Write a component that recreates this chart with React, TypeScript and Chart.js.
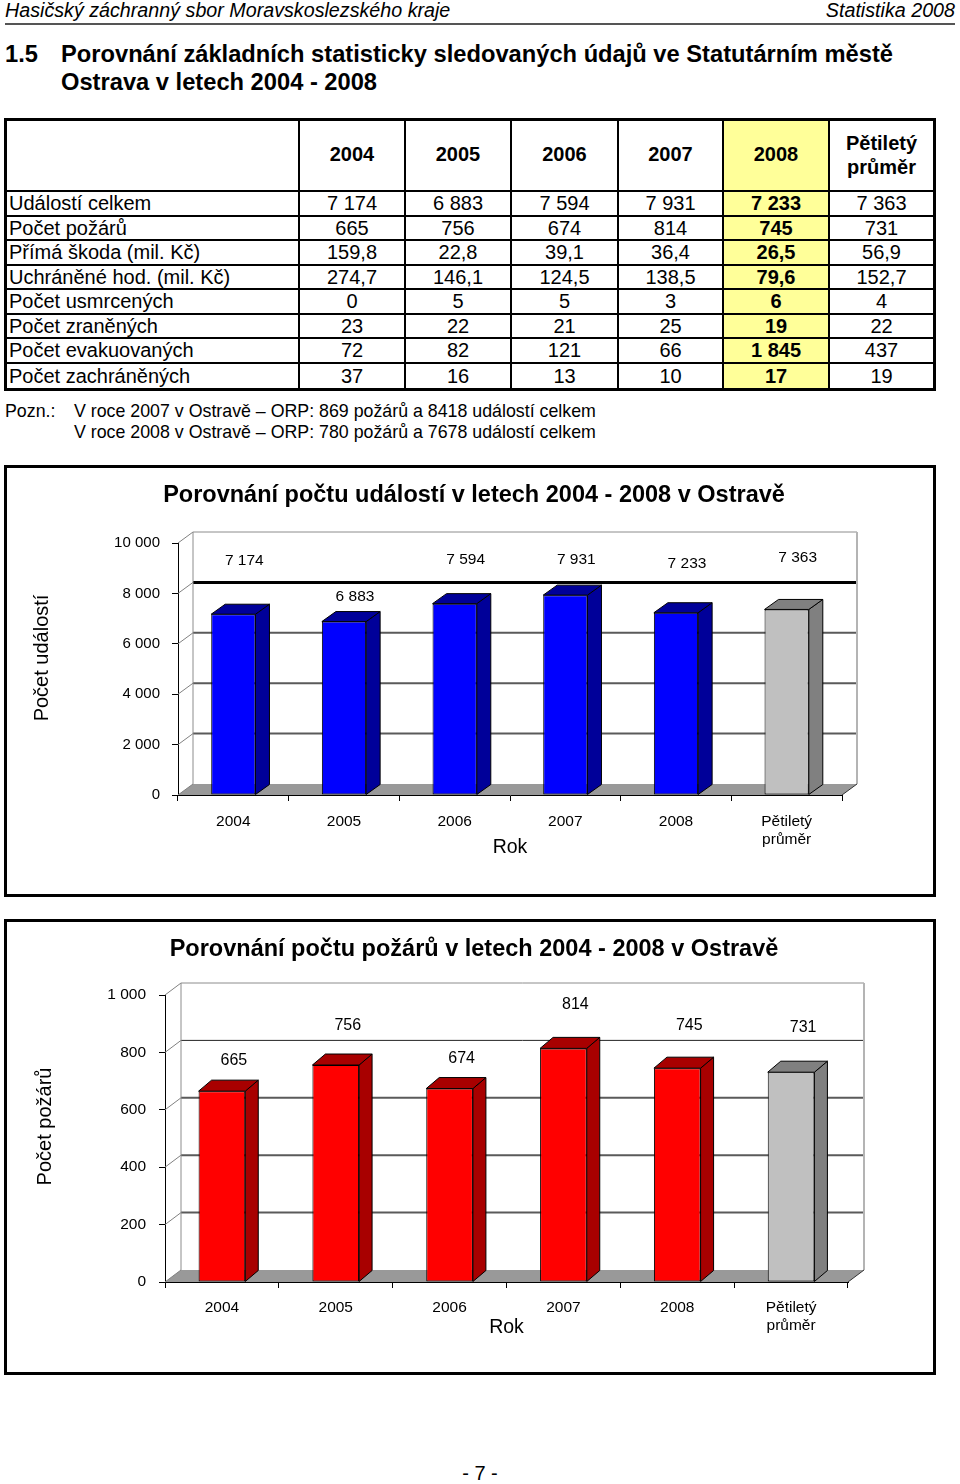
import React, { useEffect, useRef } from 'react';
import { Chart, registerables } from 'chart.js';

Chart.register(...registerables);

const FONT = '"Liberation Sans", Arial, Helvetica, sans-serif';
Chart.defaults.font.family = FONT;

// ---------- page texts ----------
const headerLeft = 'Hasičský záchranný sbor Moravskoslezského kraje';
const headerRight = 'Statistika 2008';
const sectionNumber = '1.5';
const sectionTitleLines = [
  'Porovnání základních statisticky sledovaných údajů ve Statutárním městě',
  'Ostrava v letech 2004 - 2008',
];

// ---------- table data ----------
const tableYears = ['2004', '2005', '2006', '2007', '2008'];
const tableAvgHeader = ['Pětiletý', 'průměr'];
const rowLabels = [
  'Událostí celkem',
  'Počet požárů',
  'Přímá škoda (mil. Kč)',
  'Uchráněné hod. (mil. Kč)',
  'Počet usmrcených',
  'Počet zraněných',
  'Počet evakuovaných',
  'Počet zachráněných',
];
const rowEvents = ['7 174', '6 883', '7 594', '7 931', '7 233', '7 363'];
const rowFires = ['665', '756', '674', '814', '745', '731'];
const rowDamage = ['159,8', '22,8', '39,1', '36,4', '26,5', '56,9'];
const rowSaved = ['274,7', '146,1', '124,5', '138,5', '79,6', '152,7'];
const rowDead = ['0', '5', '5', '3', '6', '4'];
const rowInjured = ['23', '22', '21', '25', '19', '22'];
const rowEvacuated = ['72', '82', '121', '66', '1 845', '437'];
const rowRescued = ['37', '16', '13', '10', '17', '19'];
const tableRows = [rowEvents, rowFires, rowDamage, rowSaved, rowDead, rowInjured, rowEvacuated, rowRescued];

const noteLabel = 'Pozn.:';
const noteLines = [
  'V roce 2007 v Ostravě – ORP: 869 požárů a 8418 událostí celkem',
  'V roce 2008 v Ostravě – ORP: 780 požárů a 7678 událostí celkem',
];

// ---------- chart data ----------
const chartCategories: (string | string[])[] = ['2004', '2005', '2006', '2007', '2008', ['Pětiletý', 'průměr']];
const eventsTitle = 'Porovnání počtu událostí v letech 2004 - 2008 v Ostravě';
const eventValues = [7174, 6883, 7594, 7931, 7233, 7363];
const eventLabelLevels = [9290, 7860, 9330, 9330, 9170, 9400];
const eventAxisMax = 10000;
const eventAxisStep = 2000;

const firesTitle = 'Porovnání počtu požárů v letech 2004 - 2008 v Ostravě';
const fireValues = [665, 756, 674, 814, 745, 731];
const fireLabelLevels = [773, 892, 780, 965, 895, 885];
const fireAxisMax = 1000;
const fireAxisStep = 200;

const pageNumber = '- 7 -';

const fmt = (v: number) => String(v).replace(/\B(?=(\d{3})+(?!\d))/g, ' ');

type Cfg = {
  values: number[];
  labelLevels: number[];
  frontColors: string[];
  sideColors: string[];
  yMax: number;
  yStep: number;
  yTitle: string;
  yTitleX: number;
  width: number;
  height: number;
  padTop: number;
  padRight: number;
  yAxisWidth: number;
  xAxisHeight: number;
  yTickPad: number;
  xTickPad: number;
  xTitlePad: number;
  barPct: number;
  wallDx: number;
  wallDy: number;
  barDx: number;
  barDy: number;
  gridStyle: (v: number) => { color: string; width: number };
  labelFont: number;
  labelDx: number;
  yTickFont: number;
  xTickFont: number;
};

function seg(ctx: CanvasRenderingContext2D, x1: number, y1: number, x2: number, y2: number) {
  ctx.beginPath();
  ctx.moveTo(x1, y1);
  ctx.lineTo(x2, y2);
  ctx.stroke();
}

function poly(ctx: CanvasRenderingContext2D, pts: number[][]) {
  ctx.beginPath();
  ctx.moveTo(pts[0][0], pts[0][1]);
  for (let i = 1; i < pts.length; i++) ctx.lineTo(pts[i][0], pts[i][1]);
  ctx.closePath();
  ctx.fill();
  ctx.stroke();
}

function make3D(cfg: Cfg) {
  return {
    id: 'threeD',
    beforeDatasetsDraw(chart: any) {
      const { ctx, chartArea } = chart;
      const { left, right, top, bottom } = chartArea;
      const y = chart.scales.y;
      const dx = cfg.wallDx;
      const dy = cfg.wallDy;
      ctx.save();
      ctx.fillStyle = '#999999';
      ctx.beginPath();
      ctx.moveTo(left, bottom);
      ctx.lineTo(left + dx, bottom - dy);
      ctx.lineTo(right + dx, bottom - dy);
      ctx.lineTo(right, bottom);
      ctx.closePath();
      ctx.fill();
      for (const t of y.ticks) {
        const py = y.getPixelForValue(t.value);
        ctx.strokeStyle = '#808080';
        ctx.lineWidth = 1;
        seg(ctx, left, py, left + dx, py - dy);
        if (t.value > y.min && t.value < y.max) {
          const g = cfg.gridStyle(t.value);
          ctx.strokeStyle = g.color;
          ctx.lineWidth = g.width;
          seg(ctx, left + dx, py - dy, right + dx, py - dy);
        }
      }
      ctx.strokeStyle = '#8c8c8c';
      ctx.lineWidth = 1;
      seg(ctx, left + dx, bottom - dy, left + dx, top - dy);
      seg(ctx, left + dx, top - dy, right + dx, top - dy);
      ctx.strokeStyle = '#b4b4b4';
      ctx.lineWidth = 2;
      seg(ctx, right + dx, bottom - dy, right + dx, top - dy);
      ctx.strokeStyle = '#333';
      ctx.lineWidth = 1;
      seg(ctx, right, bottom, right + dx, bottom - dy);
      ctx.restore();
    },
    afterDatasetsDraw(chart: any) {
      const { ctx } = chart;
      const meta = chart.getDatasetMeta(0);
      ctx.save();
      ctx.lineWidth = 1;
      ctx.strokeStyle = '#000';
      meta.data.forEach((el: any, i: number) => {
        const p = el.getProps(['x', 'y', 'base', 'width'], true);
        const l = p.x - p.width / 2;
        const r = p.x + p.width / 2;
        const t = p.y;
        const b = p.base;
        const dx = cfg.barDx;
        const dy = cfg.barDy;
        ctx.fillStyle = cfg.sideColors[i];
        poly(ctx, [[r, b], [r + dx, b - dy], [r + dx, t - dy], [r, t]]);
        poly(ctx, [[l, t], [l + dx, t - dy], [r + dx, t - dy], [r, t]]);
      });
      ctx.restore();
    },
    afterDraw(chart: any) {
      const { ctx, chartArea } = chart;
      const meta = chart.getDatasetMeta(0);
      const y = chart.scales.y;
      ctx.save();
      ctx.fillStyle = '#000';
      ctx.font = `${cfg.labelFont}px ${FONT}`;
      ctx.textAlign = 'center';
      ctx.textBaseline = 'middle';
      meta.data.forEach((el: any, i: number) => {
        ctx.fillText(fmt(cfg.values[i]), el.x + cfg.labelDx, y.getPixelForValue(cfg.labelLevels[i]));
      });
      // y-axis title, centred on the back wall
      const yc = (chartArea.top + chartArea.bottom) / 2 - cfg.wallDy;
      ctx.translate(cfg.yTitleX, yc);
      ctx.rotate(-Math.PI / 2);
      ctx.font = `20px ${FONT}`;
      ctx.fillText(cfg.yTitle, 0, 0);
      ctx.restore();
    },
  };
}

function Bar3D({ cfg }: { cfg: Cfg }) {
  const ref = useRef<HTMLCanvasElement | null>(null);
  useEffect(() => {
    if (!ref.current) return;
    const chart = new Chart(ref.current, {
      type: 'bar',
      data: {
        labels: chartCategories as any,
        datasets: [
          {
            data: cfg.values,
            backgroundColor: cfg.frontColors,
            borderColor: '#000',
            borderWidth: 1,
            borderSkipped: false,
            barPercentage: cfg.barPct,
            categoryPercentage: 1,
          },
        ],
      },
      options: {
        responsive: false,
        animation: false,
        events: [],
        layout: { padding: { left: 0, right: cfg.padRight, top: cfg.padTop, bottom: 0 } },
        plugins: {
          legend: { display: false },
          tooltip: { enabled: false },
          title: { display: false },
        },
        scales: {
          x: {
            grid: { offset: true, drawOnChartArea: false, drawTicks: true, tickLength: 6, color: '#000' },
            border: { display: true, color: '#000', width: 1 },
            ticks: {
              color: '#000',
              font: { size: cfg.xTickFont },
              padding: cfg.xTickPad,
              maxRotation: 0,
              minRotation: 0,
              autoSkip: false,
            },
            title: {
              display: true,
              text: 'Rok',
              color: '#000',
              font: { size: 19.5 },
              padding: { top: 0, bottom: cfg.xTitlePad },
            },
            afterFit: (s: any) => {
              s.height = cfg.xAxisHeight;
            },
          },
          y: {
            min: 0,
            max: cfg.yMax,
            grid: { drawOnChartArea: false, drawTicks: true, tickLength: 6, color: '#000' },
            border: { display: true, color: '#000', width: 1 },
            ticks: {
              stepSize: cfg.yStep,
              color: '#000',
              font: { size: cfg.yTickFont },
              padding: cfg.yTickPad,
              callback: (v: any) => fmt(Number(v)),
            },
            title: { display: false },
            afterFit: (s: any) => {
              s.width = cfg.yAxisWidth;
            },
          },
        },
      },
      plugins: [make3D(cfg)],
    } as any);
    return () => chart.destroy();
  }, [cfg]);
  return <canvas ref={ref} width={cfg.width} height={cfg.height} style={{ display: 'block', width: cfg.width, height: cfg.height }} />;
}

const blueFront = ['#0000FF', '#0000FF', '#0000FF', '#0000FF', '#0000FF', '#C0C0C0'];
const blueSide = ['#000099', '#000099', '#000099', '#000099', '#000099', '#808080'];
const redFront = ['#FF0000', '#FF0000', '#FF0000', '#FF0000', '#FF0000', '#C0C0C0'];
const redSide = ['#A80000', '#A80000', '#A80000', '#A80000', '#A80000', '#808080'];

const eventsCfg: Cfg = {
  values: eventValues,
  labelLevels: eventLabelLevels,
  frontColors: blueFront,
  sideColors: blueSide,
  yMax: eventAxisMax,
  yStep: eventAxisStep,
  yTitle: 'Počet událostí',
  yTitleX: 35,
  width: 926,
  height: 426,
  padTop: 75,
  padRight: 91,
  yAxisWidth: 171,
  xAxisHeight: 99,
  yTickPad: 12,
  xTickPad: 11,
  xTitlePad: 35,
  barPct: 0.4,
  wallDx: 15,
  wallDy: 11,
  barDx: 14,
  barDy: 10,
  gridStyle: (v: number) => (v === 8000 ? { color: '#000', width: 3 } : { color: '#5a5a5a', width: 2 }),
  labelFont: 15.5,
  labelDx: 11,
  yTickFont: 15,
  xTickFont: 15.5,
};

const firesCfg: Cfg = {
  values: fireValues,
  labelLevels: fireLabelLevels,
  frontColors: redFront,
  sideColors: redSide,
  yMax: fireAxisMax,
  yStep: fireAxisStep,
  yTitle: 'Počet požárů',
  yTitleX: 38,
  width: 926,
  height: 450,
  padTop: 73,
  padRight: 85,
  yAxisWidth: 158,
  xAxisHeight: 90,
  yTickPad: 13,
  xTickPad: 10,
  xTitlePad: 33,
  barPct: 0.41,
  wallDx: 16,
  wallDy: 12,
  barDx: 13,
  barDy: 11,
  gridStyle: (v: number) => (v === 800 ? { color: '#222', width: 1 } : { color: '#5a5a5a', width: 2 }),
  labelFont: 16,
  labelDx: 12,
  yTickFont: 15.5,
  xTickFont: 15.5,
};

const colWidths = [293, 106, 106, 107, 105, 106, 103];

function Table() {
  const cells: React.ReactNode[] = [];
  const nCols = 7;
  const nRows = 9;
  const cellStyle = (r: number, c: number): React.CSSProperties => ({
    boxSizing: 'border-box',
    borderRight: c < nCols - 1 ? '2px solid #000' : 'none',
    borderBottom: r < nRows - 1 ? '2px solid #000' : 'none',
    background: c === 5 ? '#FFFF99' : 'transparent',
    display: 'flex',
    alignItems: 'center',
    justifyContent: c === 0 ? 'flex-start' : 'center',
    paddingLeft: c === 0 ? 2 : 0,
    fontSize: 20,
    whiteSpace: 'nowrap',
    overflow: 'hidden',
  });
  cells.push(<div key="h0" style={cellStyle(0, 0)} />);
  tableYears.forEach((y, i) => {
    cells.push(
      <div key={'h' + (i + 1)} style={{ ...cellStyle(0, i + 1), fontWeight: 'bold', paddingBottom: 3 }}>
        {y}
      </div>
    );
  });
  cells.push(
    <div key="h6" style={{ ...cellStyle(0, 6), fontWeight: 'bold', flexDirection: 'column', lineHeight: '24px', textAlign: 'center', paddingBottom: 2 }}>
      <span>{tableAvgHeader[0]}</span>
      <span>{tableAvgHeader[1]}</span>
    </div>
  );
  rowLabels.forEach((lab, r) => {
    cells.push(
      <div key={'l' + r} style={cellStyle(r + 1, 0)}>
        {lab}
      </div>
    );
    tableRows[r].forEach((v, c) => {
      cells.push(
        <div key={'c' + r + '_' + c} style={{ ...cellStyle(r + 1, c + 1), fontWeight: c === 4 ? 'bold' : 'normal' }}>
          {v}
        </div>
      );
    });
  });
  return (
    <div
      style={{
        position: 'absolute',
        left: 4,
        top: 118,
        border: '3px solid #000',
        display: 'grid',
        gridTemplateColumns: colWidths.map((w) => w + 'px').join(' '),
        gridTemplateRows: '71px repeat(8, 24.5px)',
        lineHeight: '22px',
      }}
    >
      {cells}
    </div>
  );
}

function ChartBox({ top, height, title, cfg }: { top: number; height: number; title: string; cfg: Cfg }) {
  return (
    <div
      style={{
        position: 'absolute',
        left: 4,
        top,
        width: 926,
        height,
        border: '3px solid #000',
        background: '#fff',
      }}
    >
      <Bar3D cfg={cfg} />
      <div
        style={{
          position: 'absolute',
          left: 0,
          top: 12,
          width: 934,
          textAlign: 'center',
          fontSize: 23.5,
          fontWeight: 'bold',
          lineHeight: '28px',
          whiteSpace: 'nowrap',
        }}
      >
        {title}
      </div>
    </div>
  );
}

export default function App() {
  return (
    <div
      style={{
        position: 'absolute',
        left: 0,
        top: 0,
        width: 960,
        height: 1484,
        overflow: 'hidden',
        background: '#fff',
        fontFamily: FONT,
        color: '#000',
      }}
    >
      <div style={{ position: 'absolute', left: 5, top: -2, fontSize: 19.7, fontStyle: 'italic', lineHeight: '24px', whiteSpace: 'nowrap' }}>
        {headerLeft}
      </div>
      <div style={{ position: 'absolute', right: 5, top: -2, fontSize: 19.7, fontStyle: 'italic', lineHeight: '24px', whiteSpace: 'nowrap' }}>
        {headerRight}
      </div>
      <div style={{ position: 'absolute', left: 5, top: 23, width: 950, height: 2, background: '#555' }} />

      <div style={{ position: 'absolute', left: 5, top: 40, fontSize: 23.7, fontWeight: 'bold', lineHeight: '28px' }}>{sectionNumber}</div>
      <div style={{ position: 'absolute', left: 61, top: 40, fontSize: 23.7, fontWeight: 'bold', lineHeight: '28px', whiteSpace: 'nowrap' }}>
        {sectionTitleLines.map((l, i) => (
          <div key={i}>{l}</div>
        ))}
      </div>

      <Table />

      <div style={{ position: 'absolute', left: 5, top: 401, fontSize: 17.8, lineHeight: '21px' }}>{noteLabel}</div>
      <div style={{ position: 'absolute', left: 74, top: 401, fontSize: 17.8, lineHeight: '21px', whiteSpace: 'nowrap' }}>
        {noteLines.map((l, i) => (
          <div key={i}>{l}</div>
        ))}
      </div>

      <ChartBox top={465} height={426} title={eventsTitle} cfg={eventsCfg} />
      <ChartBox top={919} height={450} title={firesTitle} cfg={firesCfg} />

      <div style={{ position: 'absolute', left: 0, top: 1461, width: 960, textAlign: 'center', fontSize: 20, lineHeight: '24px' }}>
        {pageNumber}
      </div>
    </div>
  );
}
